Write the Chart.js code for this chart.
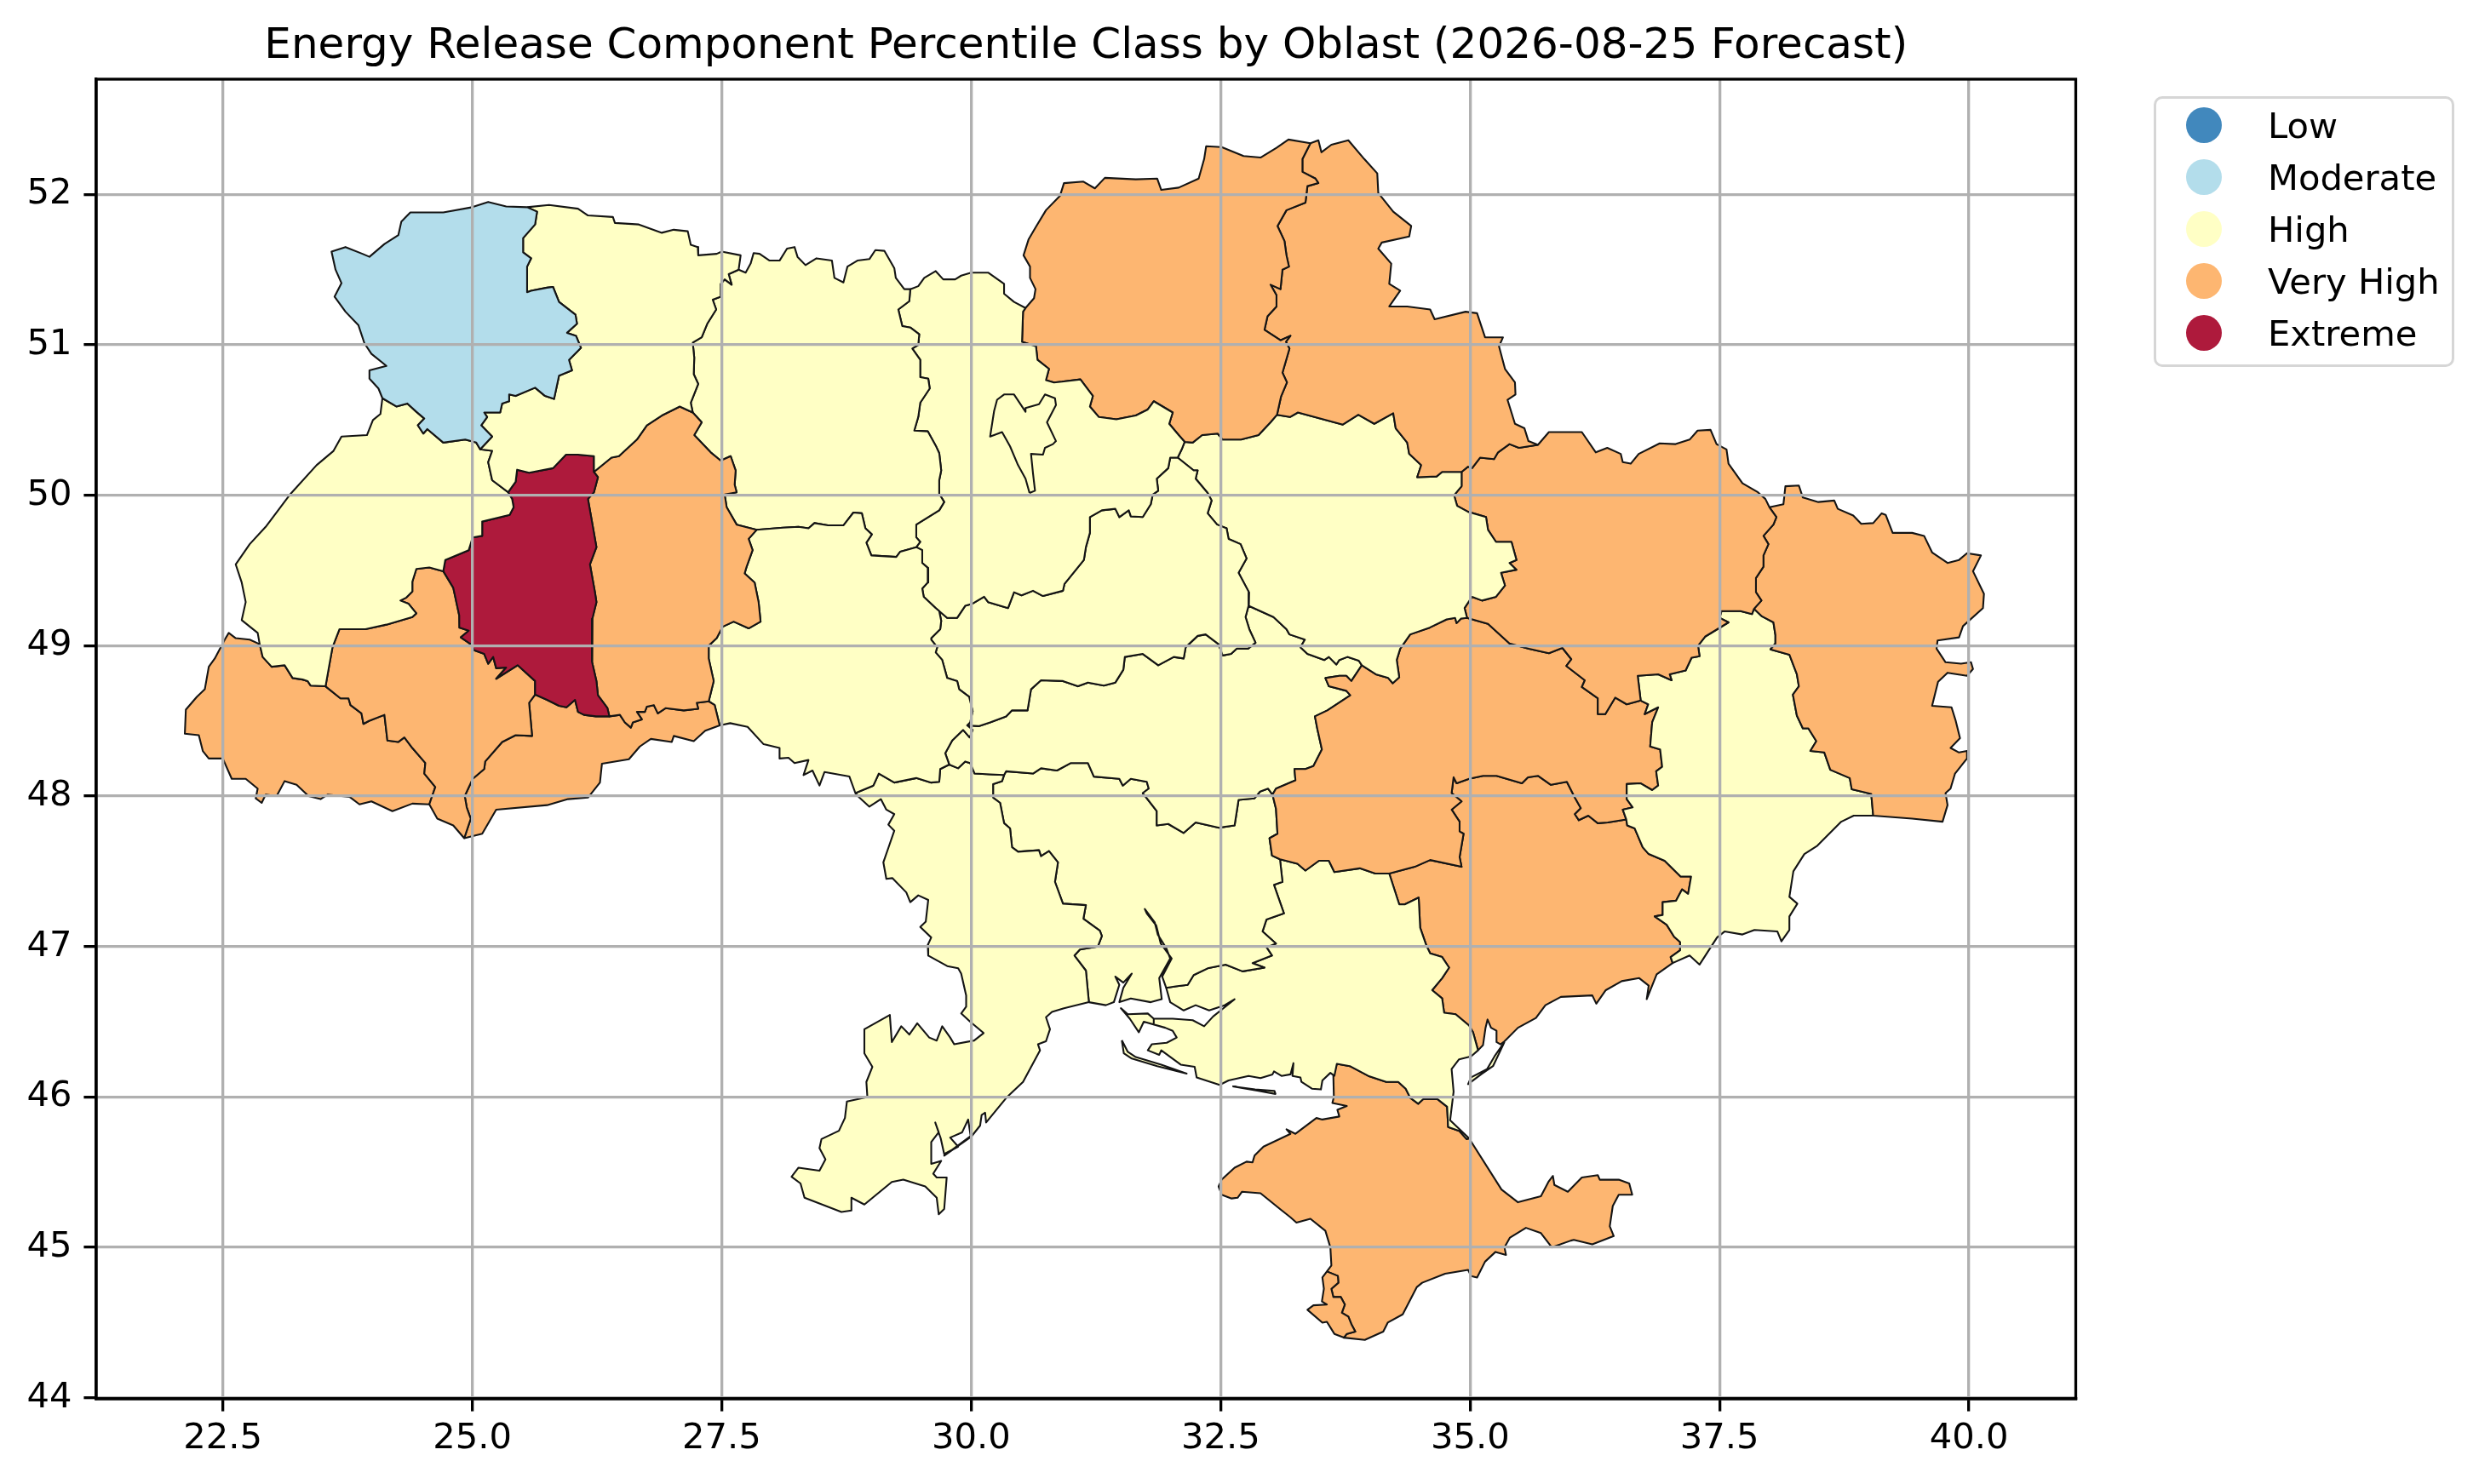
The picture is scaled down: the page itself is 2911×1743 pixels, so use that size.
<!DOCTYPE html>
<html>
<head>
<meta charset="utf-8">
<title>Energy Release Component Percentile Class by Oblast</title>
<script src="https://cdn.jsdelivr.net/npm/chart.js@4/dist/chart.umd.js"></script>
<style>
  html, body { margin: 0; padding: 0; background: #fff; }
  #wrap { position: relative; width: 2911px; height: 1743px; font-family: "DejaVu Sans", sans-serif; }
  #mapChart { display: block; }
  #legendBox { position: absolute; left: 2529px; top: 113px; width: 347px; height: 312px; border: 3.3px solid #d6d6d6; border-radius: 10px; background: #fff; }
  .legendRow { position: absolute; left: 0; height: 61px; width: 100%; font-size: 41.67px; line-height: 61px; color: #000; white-space: nowrap; }
  .legendDot { position: absolute; left: 35px; top: 9px; width: 42px; height: 42px; border-radius: 50%; }
  .legendText { position: absolute; left: 131px; top: 0; }
</style>
</head>
<body>
<div id="wrap">
  <canvas id="mapChart" width="2911" height="1743"></canvas>
  <div id="legendBox"></div>
</div>
<script>
//Classes and axis ticks
const classLabels = ["Low", "Moderate", "High", "Very High", "Extreme"];
const classColors = ["#4188bd", "#b3ddeb", "#ffffc5", "#fdb671", "#ae1a3c"];
const xTicks = [22.5, 25, 27.5, 30, 32.5, 35, 37.5, 40];
const yTicks = [44, 45, 46, 47, 48, 49, 50, 51, 52];

//Borders as [lon, lat], each one shared by the oblasts on both sides
const aVolynNorth = [[25.55,51.915],[25.34,51.92],[25.16,51.95],[25,51.915],[24.71,51.88],[24.38,51.88],[24.29,51.82],[24.26,51.73],[24.12,51.67],[23.97,51.585],[23.9,51.605],[23.73,51.65],[23.59,51.62],[23.63,51.5],[23.69,51.41],[23.62,51.32],[23.73,51.22],[23.86,51.13],[23.92,51.01],[23.99,50.94],[24.14,50.86],[23.97,50.83],[23.97,50.775],[24.06,50.71],[24.1,50.645]];
const aVolynLviv = [[24.1,50.645],[24.24,50.59],[24.35,50.61],[24.44,50.555],[24.52,50.51],[24.455,50.465],[24.51,50.41],[24.55,50.44],[24.71,50.35],[24.93,50.37],[25.04,50.35],[25.08,50.305]];
const aVolynRivne = [[25.08,50.305],[25.2,50.39],[25.09,50.465],[25.15,50.52],[25.12,50.55],[25.28,50.55],[25.3,50.61],[25.37,50.625],[25.37,50.67],[25.435,50.66],[25.63,50.715],[25.73,50.66],[25.82,50.64],[25.87,50.795],[26,50.83],[25.97,50.9],[26.09,50.98],[26.04,51.06],[25.95,51.08],[26.05,51.14],[26.035,51.2],[25.87,51.285],[25.81,51.385],[25.75,51.38],[25.59,51.36],[25.55,51.35],[25.55,51.52],[25.59,51.575],[25.51,51.615],[25.51,51.71],[25.63,51.8],[25.65,51.885],[25.55,51.915]];
const aRivneNorth = [[25.55,51.915],[25.77,51.93],[26.06,51.905],[26.16,51.86],[26.41,51.85],[26.43,51.81],[26.67,51.8],[26.9,51.745],[27.02,51.765],[27.16,51.755],[27.19,51.665],[27.26,51.65],[27.265,51.595],[27.45,51.605],[27.5,51.62],[27.69,51.595],[27.67,51.5]];
const aRivneZhyt = [[27.67,51.5],[27.57,51.47],[27.6,51.4],[27.53,51.435],[27.49,51.405],[27.49,51.32],[27.41,51.3],[27.445,51.235],[27.355,51.14],[27.3,51.05],[27.21,51.015],[27.225,50.915],[27.22,50.805],[27.265,50.74],[27.19,50.615],[27.21,50.55]];
const aRivneLviv = [[25.08,50.305],[25.2,50.295],[25.16,50.22],[25.2,50.1],[25.36,50.02]];
const aRivneTern = [[25.36,50.02],[25.435,50.09],[25.45,50.17],[25.57,50.15],[25.81,50.18],[25.94,50.27],[26.06,50.27],[26.22,50.26],[26.22,50.155]];
const aRivneKhm = [[26.22,50.155],[26.395,50.25],[26.47,50.26],[26.65,50.37],[26.75,50.465],[26.9,50.53],[27.08,50.59],[27.21,50.55]];
const aKhmZhyt = [[27.21,50.55],[27.3,50.485],[27.225,50.4],[27.39,50.285],[27.49,50.23],[27.59,50.26],[27.64,50.165],[27.63,50.07],[27.65,50.02],[27.53,50.005],[27.55,49.92],[27.65,49.805],[27.85,49.77]];
const aKhmVinn = [[27.85,49.77],[27.77,49.71],[27.81,49.635],[27.75,49.525],[27.73,49.48],[27.83,49.42],[27.87,49.29],[27.89,49.16],[27.77,49.115],[27.62,49.16],[27.51,49.126],[27.45,49.05],[27.37,49],[27.37,48.915],[27.42,48.765],[27.37,48.63]];
const aKhmChern = [[27.37,48.63],[27.25,48.62],[27.265,48.58],[27.12,48.57],[26.94,48.585],[26.86,48.55],[26.82,48.605],[26.75,48.595],[26.73,48.56],[26.65,48.56],[26.7,48.51],[26.61,48.49],[26.59,48.455],[26.53,48.49],[26.48,48.54],[26.375,48.53]];
const aTernKhm = [[26.22,50.155],[26.26,50.12],[26.22,50.02],[26.16,49.975],[26.2,49.825],[26.245,49.655],[26.18,49.54],[26.23,49.355],[26.245,49.29],[26.205,49.18],[26.2,49.01],[26.2,48.895],[26.245,48.765],[26.26,48.67],[26.355,48.585],[26.375,48.53]];
const aTernChern = [[25.63,48.675],[25.75,48.64],[25.87,48.6],[25.945,48.59],[26.03,48.64],[26.06,48.56],[26.12,48.54],[26.24,48.53],[26.375,48.53]];
const aTernIf = [[24.71,49.495],[24.81,49.385],[24.87,49.2],[24.875,49.12],[24.965,49.1],[24.885,49.055],[24.985,49.01],[25.02,48.97],[25.12,48.945],[25.16,48.88],[25.21,48.925],[25.24,48.85],[25.34,48.855],[25.24,48.78],[25.455,48.87],[25.63,48.765],[25.63,48.675]];
const aTernLviv = [[25.36,50.02],[25.4,49.975],[25.415,49.92],[25.375,49.87],[25.1,49.825],[25.1,49.73],[25.005,49.72],[24.965,49.635],[24.73,49.57],[24.71,49.495]];
const aLvivWest = [[24.1,50.645],[24.08,50.54],[24.005,50.5],[23.945,50.4],[23.69,50.39],[23.61,50.295],[23.44,50.2],[23.18,50.01],[22.93,49.79],[22.77,49.675],[22.63,49.54],[22.69,49.42],[22.73,49.29],[22.69,49.17],[22.85,49.085],[22.87,49.01]];
const aLvivZak = [[22.87,49.01],[22.9,48.925],[22.99,48.86],[23.12,48.87],[23.2,48.785],[23.3,48.775],[23.35,48.765],[23.38,48.735],[23.53,48.73]];
const aLvivIf = [[23.53,48.73],[23.57,48.88],[23.6,48.99],[23.67,49.11],[23.93,49.11],[24.14,49.14],[24.4,49.19],[24.44,49.215],[24.36,49.28],[24.28,49.3],[24.34,49.32],[24.4,49.36],[24.4,49.425],[24.44,49.51],[24.57,49.52],[24.71,49.495]];
const aZakOuter = [[22.87,49.01],[22.77,49.04],[22.63,49.05],[22.56,49.085],[22.52,49.04],[22.42,48.915],[22.36,48.86],[22.32,48.71],[22.24,48.66],[22.13,48.575],[22.12,48.415],[22.26,48.405],[22.3,48.3],[22.36,48.25],[22.5,48.25],[22.59,48.115],[22.73,48.115],[22.85,48.05],[22.83,47.985],[22.89,47.955],[22.93,48.01],[23.04,48],[23.12,48.1],[23.24,48.075],[23.36,48],[23.48,47.98],[23.55,48.01],[23.77,47.995],[23.87,47.945],[23.99,47.965],[24.2,47.9],[24.4,47.95],[24.57,47.945]];
const aZakIf = [[24.57,47.945],[24.63,48.06],[24.52,48.15],[24.53,48.22],[24.4,48.32],[24.32,48.39],[24.26,48.36],[24.15,48.37],[24.12,48.54],[23.965,48.5],[23.91,48.48],[23.89,48.55],[23.78,48.605],[23.76,48.65],[23.68,48.65],[23.53,48.73]];
const aIfSouth = [[24.57,47.945],[24.65,47.85],[24.81,47.805],[24.92,47.72]];
const aIfChern = [[25.63,48.675],[25.57,48.62],[25.6,48.4],[25.435,48.405],[25.3,48.36],[25.13,48.23],[25.12,48.18],[25.005,48.115],[24.925,48],[24.945,47.925],[24.985,47.85],[24.92,47.72]];
const aChernSouth = [[24.92,47.72],[25.1,47.75],[25.24,47.91],[25.75,47.94],[25.96,47.98],[26.16,47.99],[26.28,48.09],[26.3,48.215],[26.57,48.245],[26.68,48.33],[26.79,48.38],[27,48.36],[27.02,48.4],[27.22,48.365],[27.335,48.435],[27.48,48.47]];
const aChernVinn = [[27.37,48.63],[27.43,48.605],[27.48,48.47]];
const aVinnMoldova = [[27.48,48.47],[27.585,48.485],[27.76,48.46],[27.92,48.345],[28.08,48.32],[28.08,48.25],[28.17,48.255],[28.23,48.22],[28.37,48.24],[28.32,48.14],[28.41,48.17],[28.48,48.07],[28.53,48.16],[28.78,48.13],[28.84,48.02]];
const aVinnOdesa = [[28.84,48.02],[29.02,48.07],[29.075,48.15],[29.23,48.09],[29.45,48.12],[29.6,48.09],[29.68,48.095],[29.69,48.18],[29.78,48.21]];
const aVinnKirov = [[29.96,48.47],[30.015,48.44],[29.985,48.39],[29.92,48.44],[29.81,48.37],[29.74,48.285],[29.78,48.21]];
const aVinnCherk = [[29.68,49.23],[29.7,49.165],[29.69,49.11],[29.6,49.05],[29.6,49.04],[29.66,48.99],[29.645,48.955],[29.71,48.905],[29.76,48.785],[29.86,48.765],[29.88,48.71],[29.98,48.66],[30.015,48.565],[29.99,48.49],[29.96,48.47]];
const aVinnKyiv = [[29.45,49.655],[29.51,49.635],[29.51,49.55],[29.57,49.515],[29.565,49.42],[29.51,49.38],[29.525,49.325],[29.645,49.25],[29.68,49.23]];
const aVinnZhyt = [[27.85,49.77],[28.115,49.785],[28.27,49.79],[28.37,49.78],[28.43,49.815],[28.565,49.8],[28.72,49.8],[28.82,49.885],[28.905,49.88],[28.94,49.78],[29.005,49.74],[28.95,49.685],[29,49.6],[29.25,49.59],[29.29,49.625],[29.45,49.655]];
const aZhytNorth = [[27.67,51.5],[27.74,51.48],[27.79,51.54],[27.82,51.61],[27.88,51.605],[27.98,51.56],[28.08,51.56],[28.155,51.64],[28.23,51.65],[28.26,51.585],[28.34,51.53],[28.45,51.575],[28.605,51.56],[28.63,51.445],[28.72,51.415],[28.76,51.52],[28.86,51.56],[28.98,51.57],[29.04,51.63],[29.13,51.625],[29.23,51.51],[29.245,51.445],[29.33,51.37],[29.39,51.37]];
const aZhytKyiv = [[29.39,51.37],[29.38,51.29],[29.27,51.235],[29.31,51.125],[29.39,51.115],[29.48,51.07],[29.47,51],[29.41,50.975],[29.49,50.9],[29.49,50.785],[29.57,50.775],[29.585,50.71],[29.49,50.615],[29.47,50.52],[29.43,50.43],[29.565,50.425],[29.645,50.33],[29.68,50.28],[29.7,50.165],[29.68,50.1],[29.68,50.01],[29.73,49.955],[29.68,49.9],[29.45,49.805],[29.45,49.72],[29.49,49.69],[29.45,49.655]];
const aKyivNorth = [[29.39,51.37],[29.47,51.39],[29.53,51.445],[29.645,51.49],[29.72,51.435],[29.84,51.435],[29.9,51.46],[30,51.48],[30.17,51.48],[30.33,51.405],[30.33,51.34],[30.43,51.285],[30.545,51.245]];
const aKyivChern = [[30.545,51.245],[30.52,51.22],[30.51,51.02],[30.65,50.99],[30.665,50.9],[30.78,50.84],[30.75,50.765],[30.83,50.75],[30.91,50.755],[31.095,50.77],[31.22,50.66],[31.19,50.59],[31.28,50.52],[31.455,50.505],[31.65,50.53],[31.77,50.57],[31.83,50.625],[32.02,50.55],[31.985,50.475],[32.08,50.4],[32.14,50.355]];
const aKyivPolt = [[32.14,50.355],[32.11,50.305],[32.07,50.25]];
const aKyivCherk = [[29.68,49.23],[29.76,49.185],[29.86,49.185],[29.94,49.265],[30.015,49.28],[30.13,49.325],[30.17,49.29],[30.37,49.25],[30.43,49.355],[30.505,49.335],[30.62,49.365],[30.72,49.33],[30.92,49.365],[30.935,49.41],[31.13,49.57],[31.15,49.655],[31.19,49.75],[31.19,49.855],[31.31,49.9],[31.445,49.91],[31.485,49.855],[31.58,49.9],[31.6,49.86],[31.72,49.855],[31.8,49.94],[31.82,50.005],[31.875,50.03],[31.86,50.11],[31.975,50.18],[31.995,50.25],[32.07,50.25]];
const aCherkPolt = [[32.07,50.25],[32.23,50.165],[32.27,50.165],[32.25,50.11],[32.37,50.015],[32.41,49.965],[32.37,49.88],[32.465,49.805],[32.56,49.78],[32.58,49.71],[32.7,49.675],[32.76,49.58],[32.68,49.485],[32.785,49.355],[32.78,49.265]];
const aCherkKirov = [[32.78,49.265],[32.75,49.19],[32.79,49.105],[32.85,49.02],[32.775,48.98],[32.66,48.98],[32.605,48.945],[32.52,48.935],[32.48,49.01],[32.35,49.075],[32.27,49.065],[32.15,48.99],[32.13,48.915],[32.03,48.925],[31.875,48.87],[31.72,48.945],[31.54,48.925],[31.525,48.84],[31.445,48.755],[31.33,48.735],[31.17,48.755],[31.07,48.73],[30.92,48.765],[30.7,48.77],[30.6,48.71],[30.565,48.57],[30.41,48.57],[30.35,48.53],[30.19,48.49],[30.075,48.465],[29.96,48.47]];
const aPoltKirov = [[33.915,48.87],[33.885,48.9],[33.77,48.925],[33.69,48.905],[33.66,48.875],[33.585,48.925],[33.54,48.905],[33.37,48.945],[33.3,48.99],[33.345,49.04],[33.19,49.075],[33.16,49.11],[33.03,49.19],[32.78,49.265]];
const aPoltDnipro = [[33.915,48.87],[34.055,48.81],[34.18,48.785],[34.225,48.75],[34.29,48.79],[34.265,48.905],[34.3,48.98],[34.4,49.075],[34.595,49.12],[34.765,49.175],[34.85,49.185],[34.865,49.15],[34.91,49.18],[34.97,49.185]];
const aPoltKhar = [[34.915,50.155],[34.915,50.06],[34.84,50],[34.87,49.93],[34.98,49.89],[35.16,49.855],[35.18,49.77],[35.26,49.69],[35.415,49.69],[35.465,49.57],[35.395,49.55],[35.465,49.505],[35.31,49.485],[35.35,49.4],[35.26,49.325],[35.12,49.3],[35.02,49.325],[34.945,49.25],[34.97,49.185]];
const aSumyPolt = [[33.065,50.535],[33.195,50.52],[33.275,50.55],[33.725,50.47],[33.88,50.535],[34.04,50.475],[34.23,50.545],[34.255,50.445],[34.37,50.35],[34.39,50.275],[34.51,50.2],[34.47,50.12],[34.665,50.125],[34.72,50.155],[34.915,50.155]];
const aChernPolt = [[32.14,50.355],[32.22,50.35],[32.315,50.4],[32.47,50.41],[32.52,50.37],[32.705,50.37],[32.88,50.4],[33,50.485],[33.065,50.535]];
const aChernSumy = [[33.065,50.535],[33.105,50.655],[33.165,50.75],[33.12,50.815],[33.19,50.975],[33.155,51.02],[33.2,51.06],[33.1,51.03],[32.94,51.1],[32.97,51.19],[33.06,51.255],[33.06,51.33],[33,51.4],[33.1,51.37],[33.12,51.5],[33.185,51.52],[33.16,51.595],[33.14,51.69],[33.07,51.79],[33.16,51.895],[33.35,51.945],[33.37,52.055],[33.48,52.075],[33.45,52.105],[33.32,52.15],[33.32,52.235],[33.4,52.34]];
const aChernNorth = [[30.545,51.245],[30.63,51.31],[30.645,51.37],[30.59,51.445],[30.59,51.52],[30.525,51.595],[30.575,51.7],[30.65,51.785],[30.75,51.895],[30.89,51.99],[30.93,52.075],[31.125,52.085],[31.24,52.04],[31.34,52.11],[31.65,52.1],[31.865,52.105],[31.905,52.03],[32.08,52.045],[32.28,52.105],[32.335,52.235],[32.355,52.32],[32.51,52.315],[32.73,52.255],[32.9,52.245],[33.06,52.31],[33.18,52.365],[33.4,52.34]];
const aSumyNorth = [[33.4,52.34],[33.48,52.36],[33.51,52.28],[33.61,52.33],[33.78,52.36],[33.94,52.235],[34.07,52.14],[34.08,52.01],[34.23,51.885],[34.41,51.79],[34.39,51.72],[34.115,51.68],[34.08,51.64],[34.21,51.54],[34.19,51.405],[34.3,51.36],[34.19,51.255],[34.37,51.255],[34.6,51.235],[34.645,51.17],[34.955,51.22],[35.07,51.21],[35.15,51.05],[35.33,51.05],[35.29,50.99],[35.35,50.84],[35.45,50.75],[35.455,50.67],[35.375,50.635],[35.45,50.475],[35.545,50.445],[35.585,50.36],[35.68,50.335]];
const aSumyKhar = [[35.68,50.335],[35.49,50.315],[35.395,50.34],[35.28,50.285],[35.24,50.24],[35.1,50.25],[35.02,50.18],[34.98,50.19],[34.915,50.155]];
const aKharNorth = [[35.68,50.335],[35.79,50.42],[36.12,50.42],[36.26,50.285],[36.375,50.315],[36.51,50.275],[36.53,50.22],[36.61,50.21],[36.69,50.275],[36.9,50.345],[37.06,50.34],[37.2,50.37],[37.28,50.43],[37.41,50.435],[37.47,50.34],[37.57,50.305],[37.59,50.21],[37.73,50.08],[37.885,50.02],[37.96,49.975],[38,49.92]];
const aKharLuh = [[37.845,49.245],[37.92,49.3],[37.865,49.355],[37.865,49.45],[37.94,49.525],[37.94,49.6],[37.99,49.675],[37.94,49.73],[38.04,49.805],[38.07,49.855],[38,49.92]];
const aKharDon = [[36.71,48.635],[36.68,48.8],[36.885,48.81],[37.02,48.77],[37,48.81],[37.16,48.835],[37.22,48.92],[37.3,48.93],[37.285,49],[37.355,49.06],[37.59,49.155],[37.5,49.185],[37.52,49.23],[37.71,49.23],[37.825,49.21],[37.845,49.245]];
const aKharDnipro = [[34.97,49.185],[35.18,49.145],[35.395,49.015],[35.59,48.98],[35.79,48.95],[35.925,48.985],[36.015,48.91],[35.965,48.865],[36.15,48.77],[36.12,48.725],[36.28,48.65],[36.28,48.545],[36.355,48.545],[36.455,48.655],[36.57,48.61],[36.71,48.635]];
const aLuhOuter = [[38,49.92],[38.14,49.94],[38.16,50.06],[38.295,50.065],[38.335,49.985],[38.49,49.955],[38.65,49.965],[38.685,49.91],[38.84,49.865],[38.92,49.81],[39.04,49.815],[39.125,49.88],[39.165,49.87],[39.235,49.75],[39.43,49.75],[39.55,49.73],[39.63,49.62],[39.785,49.55],[39.9,49.57],[39.98,49.615],[40.12,49.6],[40.04,49.495],[40.15,49.345],[40.14,49.25],[39.94,49.13],[39.9,49.055],[39.685,49.035],[39.675,48.98],[39.765,48.89],[39.92,48.88],[40.02,48.89],[40.04,48.845],[39.98,48.8],[39.785,48.82],[39.69,48.76],[39.63,48.6],[39.825,48.59],[39.865,48.505],[39.91,48.385],[39.815,48.32],[39.9,48.29],[39.98,48.3],[39.98,48.25],[39.86,48.15],[39.815,48.05],[39.765,48.02],[39.785,47.94],[39.735,47.83],[39.43,47.85],[39.235,47.86],[39.04,47.87]];
const aLuhDon = [[37.845,49.245],[37.925,49.195],[38.04,49.155],[38.06,49.07],[38.06,49.015],[38.01,48.975],[38.2,48.94],[38.275,48.81],[38.295,48.73],[38.235,48.675],[38.275,48.535],[38.335,48.45],[38.39,48.45],[38.47,48.365],[38.41,48.3],[38.55,48.29],[38.61,48.175],[38.805,48.12],[38.825,48.045],[39.02,48.015],[39.04,47.87]];
const aDonOuter = [[39.04,47.87],[38.845,47.87],[38.72,47.83],[38.48,47.67],[38.35,47.615],[38.24,47.5],[38.2,47.33],[38.28,47.285],[38.2,47.2],[38.2,47.11],[38.12,47.035],[38.08,47.1],[37.85,47.11],[37.73,47.08],[37.55,47.1],[37.475,47.06],[37.3,46.88],[37.2,46.94],[37.03,46.89]];
const aDonZap = [[37.03,46.89],[37.01,46.93],[37.105,46.975],[37.105,47.03],[37.045,47.065],[36.97,47.145],[36.85,47.2],[36.93,47.21],[36.93,47.295],[37.065,47.305],[37.125,47.38],[37.185,47.35],[37.215,47.465],[37.11,47.465],[36.95,47.57],[36.79,47.615],[36.73,47.66],[36.65,47.785],[36.575,47.805],[36.565,47.845]];
const aDonDnipro = [[36.565,47.845],[36.53,47.91],[36.63,47.925],[36.57,47.98],[36.57,48.08],[36.71,48.085],[36.825,48.04],[36.885,48.07],[36.865,48.165],[36.925,48.195],[36.905,48.31],[36.805,48.33],[36.825,48.49],[36.885,48.59],[36.75,48.545],[36.785,48.61],[36.71,48.635]];
const aZapDnipro = [[36.565,47.845],[36.38,47.825],[36.28,47.82],[36.185,47.87],[36.09,47.84],[36.05,47.88],[36.11,47.92],[36.05,47.99],[35.97,48.095],[35.81,48.075],[35.68,48.135],[35.58,48.125],[35.52,48.085],[35.265,48.135],[35.13,48.135],[34.99,48.115],[34.865,48.085],[34.835,48.125],[34.815,48.02],[34.915,47.965],[34.815,47.91],[34.895,47.83],[34.895,47.765],[34.935,47.75],[34.895,47.595],[34.915,47.53],[34.6,47.575],[34.445,47.53],[34.19,47.485]];
const aKherDnipro = [[34.19,47.485],[34.05,47.485],[33.895,47.52],[33.64,47.495],[33.585,47.57],[33.485,47.57],[33.35,47.505],[33.27,47.55],[33.095,47.58]];
const aKirovDnipro = [[33.02,48.01],[33.055,48.05],[33.25,48.105],[33.24,48.18],[33.35,48.18],[33.43,48.2],[33.515,48.31],[33.47,48.445],[33.445,48.53],[33.57,48.57],[33.8,48.67],[33.76,48.7],[33.585,48.73],[33.55,48.785],[33.69,48.8],[33.76,48.8],[33.81,48.765],[33.915,48.87]];
const aMykDnipro = [[33.02,48.01],[33.055,47.915],[33.07,47.75],[32.99,47.72],[33.015,47.605],[33.095,47.58]];
const aKirovMyk = [[30.33,48.14],[30.35,48.165],[30.62,48.15],[30.7,48.185],[30.86,48.17],[31,48.22],[31.17,48.22],[31.23,48.13],[31.485,48.115],[31.52,48.07],[31.6,48.115],[31.76,48.095],[31.78,48.05],[31.72,48.02],[31.86,47.9],[31.86,47.805],[31.975,47.815],[32.13,47.755],[32.25,47.825],[32.485,47.79],[32.64,47.805],[32.68,47.975],[32.84,47.985],[32.895,48.03],[32.975,48.05],[33.02,48.01]];
const aOdesaKirov = [[29.78,48.21],[29.87,48.185],[29.94,48.23],[29.99,48.22],[30.035,48.15],[30.19,48.145],[30.33,48.14]];
const aOdesaMyk = [[30.33,48.14],[30.31,48.1],[30.22,48.08],[30.22,47.99],[30.29,47.955],[30.33,47.82],[30.39,47.785],[30.41,47.66],[30.47,47.63],[30.68,47.64],[30.7,47.6],[30.78,47.635],[30.87,47.56],[30.84,47.43],[30.92,47.285],[31.15,47.275],[31.125,47.185],[31.29,47.105],[31.31,47.07],[31.27,47],[31.09,46.98],[31.035,46.94],[31.15,46.84],[31.18,46.63]];
const aOdesaOuter = [[28.84,48.02],[28.88,47.99],[28.98,47.93],[29.095,47.98],[29.15,47.91],[29.23,47.88],[29.17,47.81],[29.23,47.77],[29.17,47.655],[29.12,47.56],[29.15,47.45],[29.21,47.455],[29.35,47.36],[29.39,47.295],[29.47,47.34],[29.57,47.31],[29.545,47.165],[29.49,47.13],[29.6,47.06],[29.565,47.01],[29.57,46.94],[29.76,46.87],[29.87,46.855],[29.9,46.82],[29.95,46.675],[29.95,46.6],[29.9,46.555],[29.99,46.5],[30.125,46.425],[30.03,46.375],[29.83,46.35],[29.79,46.395],[29.71,46.47],[29.655,46.375],[29.58,46.395],[29.46,46.49],[29.38,46.415],[29.3,46.47],[29.205,46.365],[29.185,46.545],[28.93,46.45],[28.93,46.29],[29.01,46.2],[28.95,46.1],[28.96,46],[28.755,45.97],[28.735,45.86],[28.675,45.775],[28.5,45.72],[28.48,45.66],[28.54,45.585],[28.48,45.51],[28.27,45.53],[28.2,45.47],[28.29,45.425],[28.33,45.33],[28.7,45.235],[28.8,45.245],[28.8,45.33],[28.93,45.285],[29.205,45.435],[29.32,45.45],[29.54,45.405],[29.655,45.33],[29.675,45.22],[29.73,45.255],[29.755,45.465],[29.655,45.465],[29.62,45.49],[29.7,45.575],[29.6,45.555],[29.6,45.7],[29.675,45.765],[29.64,45.83],[29.695,45.725],[29.73,45.62],[29.87,45.67],[29.79,45.73],[29.91,45.765],[29.97,45.85],[29.995,45.74],[29.73,45.61],[30,45.735],[30.09,45.81],[30.105,45.88],[30.14,45.895],[30.15,45.83],[30.36,46],[30.52,46.1],[30.69,46.31],[30.67,46.35],[30.75,46.37],[30.79,46.45],[30.75,46.53],[30.81,46.565],[30.93,46.59],[31.18,46.63]];
const aMykCoast = [[31.18,46.63],[31.35,46.61],[31.43,46.63],[31.485,46.745],[31.445,46.8],[31.525,46.76],[31.61,46.82],[31.525,46.725],[31.485,46.63],[31.6,46.655],[31.8,46.63],[31.91,46.65],[31.885,46.79],[31.995,46.92],[31.955,46.99],[31.87,47.08],[31.84,47.16],[31.74,47.25],[31.76,47.22],[31.855,47.14],[31.9,47.02],[32.01,46.92],[31.915,46.8],[31.955,46.725]];
const aMykKher = [[33.095,47.58],[33.12,47.43],[33.035,47.41],[33.135,47.22],[32.96,47.18],[32.92,47.1],[33.055,47.02],[32.96,46.995],[33.015,46.94],[32.82,46.89],[32.94,46.86],[32.72,46.835],[32.55,46.88],[32.37,46.855],[32.23,46.81],[32.17,46.745],[32.05,46.735],[31.955,46.725]];
const aKherCoast = [[31.955,46.725],[31.995,46.63],[32.13,46.575],[32.25,46.61],[32.385,46.575],[32.54,46.61],[32.64,46.65],[32.52,46.585],[32.425,46.535],[32.335,46.47],[32.22,46.51],[32.02,46.52],[31.83,46.52],[31.83,46.49],[31.83,46.52],[31.77,46.555],[31.57,46.55],[31.5,46.59],[31.59,46.52],[31.68,46.43],[31.73,46.5],[31.945,46.46],[32.02,46.44],[32.06,46.395],[31.96,46.36],[31.81,46.35],[31.77,46.31],[31.885,46.28],[31.905,46.31],[32.1,46.215],[32.24,46.2],[32.26,46.13],[32.49,46.08],[32.58,46.11],[32.78,46.14],[32.9,46.125],[33.02,46.15],[33.035,46.17],[33.11,46.14],[33.2,46.15],[33.23,46.225],[33.22,46.14],[33.3,46.13],[33.31,46.1],[33.415,46.055],[33.505,46.05],[33.52,46.11],[33.6,46.16],[33.64,46.14],[33.665,46.22]];
const aKherCrimea = [[33.665,46.22],[33.795,46.205],[33.98,46.14],[34.16,46.1],[34.28,46.1],[34.355,46.055],[34.4,45.995],[34.48,45.955],[34.53,45.985],[34.675,45.985],[34.77,45.935],[34.78,45.8],[34.89,45.775],[34.965,45.72],[34.99,45.725]];
const aKherEast = [[34.99,45.725],[34.95,45.75],[34.8,45.845],[34.835,46.035],[34.815,46.185],[34.89,46.25],[35.01,46.27],[35.08,46.31]];
const aKherZap = [[34.19,47.485],[34.29,47.28],[34.345,47.28],[34.485,47.325],[34.5,47.125],[34.56,47.01],[34.6,46.955],[34.72,46.93],[34.79,46.86],[34.72,46.79],[34.62,46.71],[34.72,46.655],[34.74,46.56],[34.855,46.55],[34.99,46.475],[35.03,46.43],[35.08,46.31]];
const aZapCoast = [[35.08,46.31],[35.13,46.345],[35.155,46.46],[35.175,46.515],[35.21,46.46],[35.265,46.44],[35.265,46.365],[35.305,46.35],[35.345,46.37],[35.48,46.46],[35.66,46.525],[35.755,46.61],[35.91,46.665],[36.225,46.675],[36.265,46.62],[36.36,46.71],[36.52,46.77],[36.695,46.79],[36.79,46.74],[36.77,46.65],[36.87,46.815],[37.03,46.89]];
const aCrimeaWest = [[33.665,46.22],[33.63,46.14],[33.635,46],[33.62,45.96],[33.765,45.94],[33.67,45.915],[33.69,45.87],[33.52,45.85],[33.46,45.86],[33.25,45.755],[33.16,45.785],[33.2,45.755],[32.93,45.67],[32.84,45.61],[32.82,45.565],[32.76,45.57],[32.64,45.53],[32.51,45.45],[32.48,45.405],[32.51,45.35],[32.61,45.325],[32.67,45.33],[32.715,45.37],[32.9,45.36],[33.095,45.255],[33.2,45.2],[33.26,45.165],[33.4,45.19],[33.55,45.11],[33.6,45],[33.61,44.88],[33.565,44.84]];
const aSevWest = [[33.565,44.84],[33.52,44.8],[33.535,44.725],[33.515,44.64],[33.565,44.62],[33.43,44.615],[33.37,44.585],[33.52,44.5],[33.565,44.505],[33.64,44.425],[33.735,44.4]];
const aSevCrimea = [[33.565,44.84],[33.675,44.81],[33.68,44.765],[33.61,44.725],[33.63,44.67],[33.705,44.67],[33.745,44.62],[33.715,44.565],[33.78,44.54],[33.81,44.49],[33.85,44.44],[33.765,44.425],[33.735,44.4]];
const aCrimeaSouth = [[33.735,44.4],[33.945,44.385],[34.13,44.44],[34.175,44.5],[34.325,44.555],[34.465,44.735],[34.52,44.765],[34.75,44.825],[34.98,44.85],[35.01,44.81],[35.07,44.8],[35.15,44.905],[35.255,44.97],[35.36,44.95],[35.345,45],[35.4,45.065],[35.56,45.13],[35.71,45.095],[35.82,45],[36.01,45.045],[36.04,45.05],[36.225,45.02],[36.44,45.075],[36.4,45.14],[36.43,45.275],[36.49,45.35],[36.625,45.35],[36.595,45.425],[36.49,45.45],[36.3,45.45],[36.28,45.48],[36.12,45.465],[35.98,45.37],[35.845,45.415],[35.83,45.475],[35.785,45.435],[35.71,45.34],[35.48,45.3],[35.315,45.385],[34.99,45.725]];
const aKyivCity = [[30.585,50.015],[30.64,50.03],[30.62,50.145],[30.6,50.275],[30.72,50.27],[30.74,50.315],[30.82,50.34],[30.85,50.36],[30.76,50.485],[30.85,50.6],[30.84,50.645],[30.74,50.67],[30.68,50.605],[30.545,50.58],[30.545,50.555],[30.43,50.67],[30.33,50.67],[30.26,50.635],[30.23,50.56],[30.19,50.39],[30.31,50.42],[30.39,50.325],[30.47,50.2],[30.545,50.11],[30.585,50.015]];
const aTendra = [[31.51,46.377],[31.53,46.29],[31.61,46.255],[31.865,46.205],[32.16,46.155],[31.905,46.215],[31.65,46.265],[31.57,46.3],[31.51,46.377]];
const aDzharylhach = [[32.62,46.07],[32.845,46.05],[33.04,46.04],[33.05,46.02],[32.88,46.04],[32.62,46.07]];
const aArabatSpit = [[35.345,46.365],[35.23,46.205],[35.11,46.15],[34.98,46.085],[35.01,46.13],[35.17,46.185],[35.245,46.27],[35.345,46.365]];

function rev(arc) {
  return arc.slice().reverse();
}

//Oblast name, class index and the borders that go round it
const regionNames = ["Kyiv City", "Tendra Spit", "Dzharylhach", "Arabat Spit", "Sevastopol", "Volyn", "Rivne", "Lviv", "Ternopil", "Khmelnytskyi", "Ivano-Frankivsk", "Zakarpattia", "Chernivtsi", "Vinnytsia", "Zhytomyr", "Kyiv", "Chernihiv", "Sumy", "Cherkasy", "Poltava", "Kharkiv", "Luhansk", "Donetsk", "Dnipropetrovsk", "Kirovohrad", "Odesa", "Mykolaiv", "Kherson", "Zaporizhzhia", "Crimea"];
const regionClasses = [2, 2, 2, 2, 3, 1, 2, 2, 4, 3, 3, 3, 3, 2, 2, 2, 3, 3, 2, 2, 3, 3, 2, 3, 2, 2, 2, 2, 3, 3];
const regionShapes = [
  [aKyivCity],
  [aTendra],
  [aDzharylhach],
  [aArabatSpit],
  [aSevWest, rev(aSevCrimea)],
  [aVolynNorth, aVolynLviv, aVolynRivne],
  [aRivneNorth, aRivneZhyt, rev(aRivneKhm), rev(aRivneTern), rev(aRivneLviv), aVolynRivne],
  [aLvivWest, aLvivZak, aLvivIf, rev(aTernLviv), rev(aRivneLviv), rev(aVolynLviv)],
  [aRivneTern, aTernKhm, rev(aTernChern), rev(aTernIf), rev(aTernLviv)],
  [aRivneKhm, aKhmZhyt, aKhmVinn, aKhmChern, rev(aTernKhm)],
  [aLvivIf, aTernIf, aIfChern, rev(aIfSouth), aZakIf],
  [aZakOuter, aZakIf, rev(aLvivZak)],
  [rev(aIfChern), aTernChern, rev(aKhmChern), aChernVinn, rev(aChernSouth)],
  [aVinnZhyt, aVinnKyiv, aVinnCherk, aVinnKirov, rev(aVinnOdesa), rev(aVinnMoldova), rev(aChernVinn), rev(aKhmVinn)],
  [aZhytNorth, aZhytKyiv, rev(aVinnZhyt), rev(aKhmZhyt), rev(aRivneZhyt)],
  [aKyivNorth, aKyivChern, aKyivPolt, rev(aKyivCherk), rev(aVinnKyiv), rev(aZhytKyiv)],
  [aChernNorth, rev(aChernSumy), rev(aChernPolt), rev(aKyivChern)],
  [aSumyNorth, aSumyKhar, rev(aSumyPolt), aChernSumy],
  [aKyivCherk, aCherkPolt, aCherkKirov, rev(aVinnCherk)],
  [rev(aKyivPolt), aChernPolt, aSumyPolt, aPoltKhar, rev(aPoltDnipro), aPoltKirov, rev(aCherkPolt)],
  [aKharNorth, rev(aKharLuh), rev(aKharDon), rev(aKharDnipro), rev(aPoltKhar), rev(aSumyKhar)],
  [aLuhOuter, rev(aLuhDon), aKharLuh],
  [aLuhDon, aDonOuter, aDonZap, aDonDnipro, aKharDon],
  [aPoltDnipro, aKharDnipro, rev(aDonDnipro), aZapDnipro, aKherDnipro, rev(aMykDnipro), aKirovDnipro],
  [aOdesaKirov, aKirovMyk, aKirovDnipro, aPoltKirov, aCherkKirov, aVinnKirov],
  [aOdesaOuter, rev(aOdesaMyk), rev(aOdesaKirov), rev(aVinnOdesa)],
  [aMykCoast, rev(aMykKher), rev(aMykDnipro), rev(aKirovMyk), aOdesaMyk],
  [aKherCoast, aKherCrimea, aKherEast, rev(aKherZap), aKherDnipro, aMykKher],
  [aZapCoast, aDonZap, aZapDnipro, aKherZap],
  [aCrimeaWest, aSevCrimea, aCrimeaSouth, rev(aKherCrimea)]
];

const tickFont = { family: "'DejaVu Sans'", size: 41.67 };

//Axes frame, Chart.js only draws the left and bottom borders
const framePlugin = {
  id: "frame",
  afterDraw(chart) {
    const { ctx, chartArea } = chart;
    ctx.save();
    ctx.strokeStyle = "#000";
    ctx.lineWidth = 3.3;
    ctx.strokeRect(chartArea.left, chartArea.top, chartArea.right - chartArea.left, chartArea.bottom - chartArea.top);
    ctx.restore();
  },
};

const mapData = {
  datasets: regionShapes.map((arcs, i) => ({
    label: regionNames[i],
    data: arcs.flat().map((p) => ({ x: p[0], y: p[1] })),
    showLine: true,
    fill: "shape",
    backgroundColor: classColors[regionClasses[i]],
    borderColor: "#141414",
    borderWidth: 2.1,
    borderJoinStyle: "round",
    pointRadius: 0,
    pointHoverRadius: 0,
    tension: 0,
  })),
};

const mapConfig = {
  type: "scatter",
  data: mapData,
  plugins: [framePlugin],
  options: {
    responsive: false,
    animation: false,
    devicePixelRatio: 1,
    events: [],
    layout: { padding: { left: 0, top: 0, right: 473.5, bottom: 0 } },
    plugins: {
      legend: { display: false },
      tooltip: { enabled: false },
      title: {
        display: true,
        text: "Energy Release Component Percentile Class by Oblast (2026-08-25 Forecast)",
        color: "#000",
        fullSize: false,
        font: { family: "'DejaVu Sans'", size: 50, weight: "normal", lineHeight: 1 },
        padding: { top: 30, bottom: 13 },
      },
    },
    scales: {
      x: {
        type: "linear",
        min: 21.232,
        max: 41.07,
        afterFit: (s) => { s.height = 100; },
        afterBuildTicks: (s) => { s.ticks = xTicks.map((v) => ({ value: v })); },
        grid: { color: "#b0b0b0", lineWidth: 3.3, z: 1, tickColor: "#000", tickLength: 14.6, tickWidth: 3.3 },
        border: { color: "#000", width: 3.3, z: 2 },
        ticks: { color: "#000", font: tickFont, padding: 8, maxRotation: 0, autoSkip: false, callback: (v) => v.toFixed(1) },
      },
      y: {
        type: "linear",
        min: 43.993,
        max: 52.766,
        afterFit: (s) => { s.width = 113; },
        afterBuildTicks: (s) => { s.ticks = yTicks.map((v) => ({ value: v })); },
        grid: { color: "#b0b0b0", lineWidth: 3.3, z: 1, tickColor: "#000", tickLength: 14.6, tickWidth: 3.3 },
        border: { color: "#000", width: 3.3, z: 2 },
        ticks: { color: "#000", font: tickFont, padding: 14, autoSkip: false, callback: (v) => String(v) },
      },
    },
  },
};
var mapChart = new Chart(document.getElementById("mapChart"), mapConfig);

//Legend box next to the axes
const legendBox = document.getElementById("legendBox");
classLabels.forEach((label, i) => {
  const row = document.createElement("div");
  row.className = "legendRow";
  row.style.top = 1 + i * 61 + "px";
  row.innerHTML = '<span class="legendDot" style="background:' + classColors[i] + '"></span><span class="legendText">' + label + "</span>";
  legendBox.appendChild(row);
});
</script>
</body>
</html>
